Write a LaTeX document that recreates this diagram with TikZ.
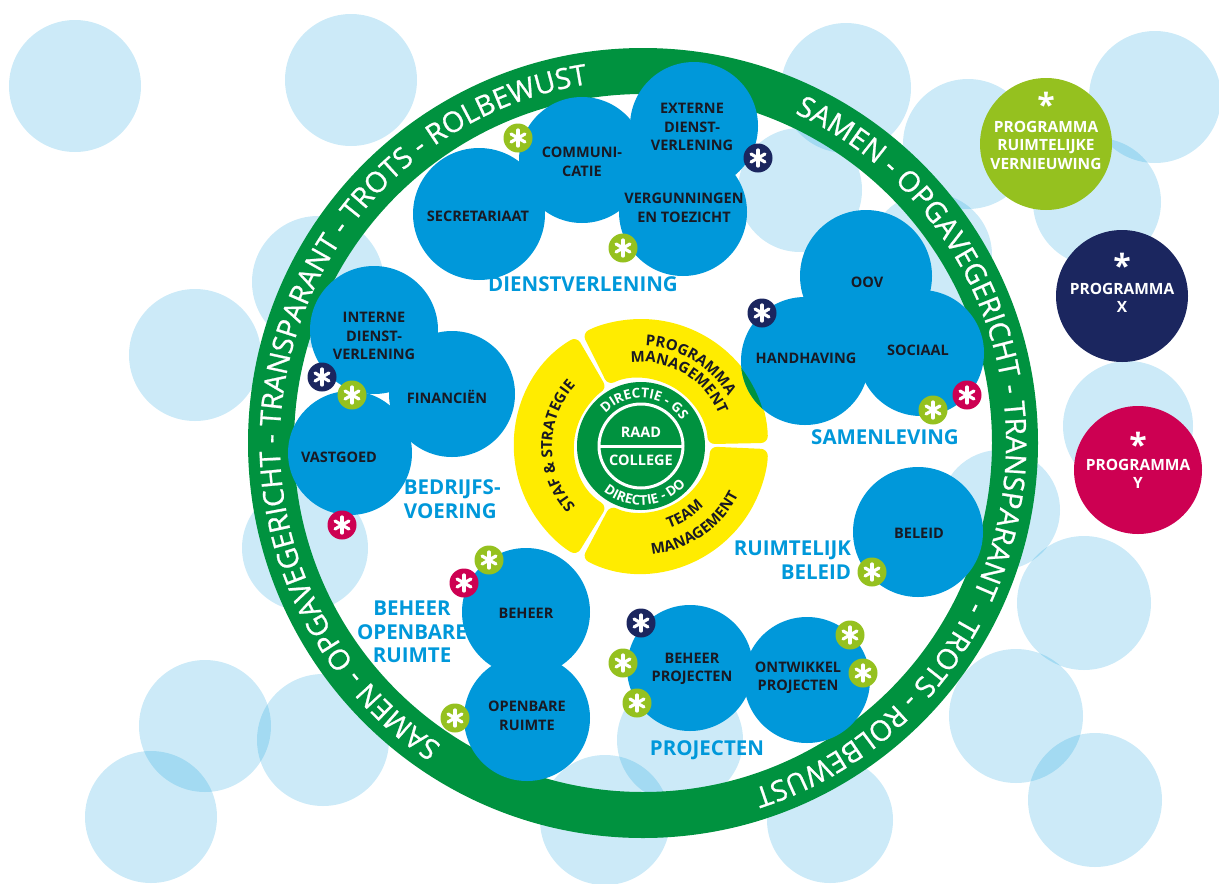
\documentclass[tikz,border=0pt]{standalone}
\usepackage{fontspec}
\setmainfont{Open Sans}
\usetikzlibrary{decorations.text}

\definecolor{unitblue}{RGB}{0,152,218}
\definecolor{ringgreen}{RGB}{0,146,63}
\definecolor{coreyellow}{RGB}{255,236,0}
\definecolor{limegreen}{RGB}{149,193,31}
\definecolor{navyblue}{RGB}{27,38,95}
\definecolor{progred}{RGB}{205,0,82}
\definecolor{labelink}{RGB}{25,25,35}

\newfontfamily\ringfamily{Open Sans}[FakeBold=0.8]
\newcommand{\ringfont}{\ringfamily\fontsize{28.5}{28.5}\selectfont}
\newcommand{\corefont}{\bfseries\fontsize{15}{15}\selectfont}
\newcommand{\directiefont}{\bfseries\fontsize{13.5}{13.5}\selectfont}

\tikzset{
  unit/.style={text=labelink, align=center, inner sep=0.75pt, font=\bfseries\fontsize{14.5}{18.5}\selectfont},
  group/.style={text=unitblue, align=center, inner sep=0.75pt, font=\bfseries\fontsize{20.5}{23.5}\selectfont},
  progtext/.style={text=white, align=center, inner sep=0.75pt, font=\bfseries\fontsize{15.5}{18.5}\selectfont},
  progstar/.style={anchor=base, text=white, inner sep=0pt, font=\bfseries\fontsize{32}{32}\selectfont},
  curved/.style={decorate, decoration={text along path, text color=#1, text align=center}},
  curved/.default=labelink,
  pics/badge/.style={code={
    \fill[#1] (0, 0) circle[radius=14.5];
    \foreach \a in {90, 30, 150} \draw[white, line width=3.2, line cap=round] (\a:8) -- (\a+180:8);
  }}
}

\begin{document}
\begin{tikzpicture}[x=1pt, y=-1pt]
\useasboundingbox (0, 0) rectangle (1219, 884);
\clip (0, 0) rectangle (1219, 884);
%Background circles
\foreach \cx/\cy/\r in {75/86/66, 351/80/66, 318/282/66, 195/355/66, 305/548/63, 205/726/66, 323/740/66, 151/817/66, 605/820/65, 680/740/63, 830/820/63, 846/88/65, 968/144/65, 800/190/62, 930/255/62, 1155/97/66, 1097/202/64, 1128/426/65, 1000/510/60, 1084/603/67, 1016/716/67, 1095/800/67}
  \fill[unitblue, opacity=0.2] (\cx, \cy) circle[radius=\r];
%Ring
\draw[ringgreen, line width=46] (643, 443) circle[radius=372];
\path[curved=white, decoration={text={|\ringfont|SAMEN - OPGAVEGERICHT - TRANSPARANT - TROTS - ROLBEWUST}}]
  (643, 443) ++(-85:363) arc[start angle=-85, end angle=92, radius=363];
\path[curved=white, decoration={text={|\ringfont|SAMEN - OPGAVEGERICHT - TRANSPARANT - TROTS - ROLBEWUST}}]
  (643, 443) ++(-257:363) arc[start angle=-257, end angle=-78, radius=363];
%Core
\fill[coreyellow, rounded corners=7] (641, 446) ++(-1.4:127) arc[start angle=-1.4, end angle=-117.6, radius=127] -- ++(-116.5:-58) arc[start angle=-116.5, end angle=-2.5, radius=69] -- cycle;
\fill[coreyellow, rounded corners=7] (641, 446) ++(-120.4:127) arc[start angle=-120.4, end angle=-239.6, radius=127] -- ++(-238.5:-58) arc[start angle=-238.5, end angle=-121.5, radius=69] -- cycle;
\fill[coreyellow, rounded corners=7] (641, 446) ++(-242.4:127) arc[start angle=-242.4, end angle=-358.6, radius=127] -- ++(-357.5:-58) arc[start angle=-357.5, end angle=-243.5, radius=69] -- cycle;
\fill[ringgreen] (641, 446) circle[radius=64];
\draw[white, line width=3] (641, 446) circle[radius=42];
\draw[white, line width=3] (600, 446) -- (682, 446);
%Units
\foreach \cx/\cy/\r in {479/214/66, 582/160/63, 694/126/64, 683/212/64, 374/330/64, 452/394/63, 350/453/62, 866/276/66, 805/361/64, 921/353/63, 918/532/65, 526/612/64, 527/718/63, 690/668/63, 807/680/63}
  \fill[unitblue] (\cx, \cy) circle[radius=\r];
\begin{scope}
  \clip (641, 446) ++(-1.4:127) arc[start angle=-1.4, end angle=-117.6, radius=127] -- ++(-116.5:-58) arc[start angle=-116.5, end angle=-2.5, radius=69] -- cycle;
  \fill[ringgreen] (805, 361) circle[radius=64];
\end{scope}
%Programmes
\fill[limegreen] (1046, 144) circle[radius=66];
\fill[navyblue] (1122, 296) circle[radius=66];
\fill[progred] (1138, 470) circle[radius=64];
%Core text
\path[curved=labelink, decoration={text={|\corefont|PROGRAMMA}}] (641, 446) ++(-113:100) arc[start angle=-113, end angle=-4, radius=100];
\path[curved=labelink, decoration={text={|\corefont|MANAGEMENT}}] (641, 446) ++(-115:84) arc[start angle=-115, end angle=-4, radius=84];
\path[curved=labelink, decoration={text={|\corefont|STAF {\&} STRATEGIE}}] (641, 446) ++(-236:89) arc[start angle=-236, end angle=-124, radius=89];
\path[curved=labelink, decoration={text={|\corefont|TEAM}}] (641, 446) ++(100:87) arc[start angle=100, end angle=15, radius=87];
\path[curved=labelink, decoration={text={|\corefont|MANAGEMENT}}] (641, 446) ++(105:109) arc[start angle=105, end angle=6, radius=109];
\path[curved=white, decoration={text={|\directiefont|DIRECTIE - GS}}] (641, 446) ++(-160:48) arc[start angle=-160, end angle=-10, radius=48];
\path[curved=white, decoration={text={|\directiefont|DIRECTIE - DO}}] (641, 446) ++(165:59) arc[start angle=165, end angle=5, radius=59];
\node [progtext, font=\bfseries\fontsize{14.5}{14.5}\selectfont] (raad) at (641, 432) {RAAD};
\node [progtext, font=\bfseries\fontsize{14.5}{14.5}\selectfont] (college) at (641, 460) {COLLEGE};
%Text
\node [unit] (secretariaat) at (478, 216) {SECRETARIAAT};
\node [unit] (communicatie) at (582, 162) {COMMUNI-\\CATIE};
\node [unit] (externe) at (692, 127) {EXTERNE\\DIENST-\\VERLENING};
\node [unit] (vergunningen) at (684, 208) {VERGUNNINGEN\\EN TOEZICHT};
\node [group] (dienstverlening) at (583, 284) {DIENSTVERLENING};
\node [unit] (interne) at (374, 336) {INTERNE\\DIENST-\\VERLENING};
\node [unit] (financien) at (447, 397) {FINANCIËN};
\node [unit] (vastgoed) at (339, 457) {VASTGOED};
\node [group, anchor=west, align=left] (bedrijfsvoering) at (403, 499) {BEDRIJFS-\\VOERING};
\node [unit] (oov) at (867, 282) {OOV};
\node [unit] (handhaving) at (806, 358) {HANDHAVING};
\node [unit] (sociaal) at (918, 350) {SOCIAAL};
\node [group] (samenleving) at (885, 437) {SAMENLEVING};
\node [unit] (beleid) at (919, 533) {BELEID};
\node [group, anchor=east, align=right] (ruimtelijk) at (852, 560) {RUIMTELIJK\\BELEID};
\node [unit] (beheer) at (526, 613) {BEHEER};
\node [unit] (openbare) at (527, 716) {OPENBARE\\RUIMTE};
\node [group] (beheeropenbare) at (412, 632) {BEHEER\\OPENBARE\\RUIMTE};
\node [unit] (beheerprojecten) at (692, 669) {BEHEER\\PROJECTEN};
\node [unit] (ontwikkel) at (798, 678) {ONTWIKKEL\\PROJECTEN};
\node [group] (projecten) at (707, 750) {PROJECTEN};
\node [progstar] (starrv) at (1046, 116) {*};
\node [progtext] (progrv) at (1046, 145) {PROGRAMMA\\RUIMTELIJKE\\VERNIEUWING};
\node [progstar] (starx) at (1122, 277) {*};
\node [progtext] (progx) at (1122, 298) {PROGRAMMA\\X};
\node [progstar] (stary) at (1138, 456) {*};
\node [progtext] (progy) at (1138, 474) {PROGRAMMA\\Y};
%Badges
\foreach \bx/\by in {518/138, 623/248, 352/395, 933/410, 872/572, 489/560, 455/718, 623/663, 637/703, 850/635, 863/673}
  \pic at (\bx, \by) {badge=limegreen};
\foreach \bx/\by in {758/158, 322/377, 762/313, 641/623}
  \pic at (\bx, \by) {badge=navyblue};
\foreach \bx/\by in {342/525, 967/395, 464/583}
  \pic at (\bx, \by) {badge=progred};
\end{tikzpicture}
\end{document}
